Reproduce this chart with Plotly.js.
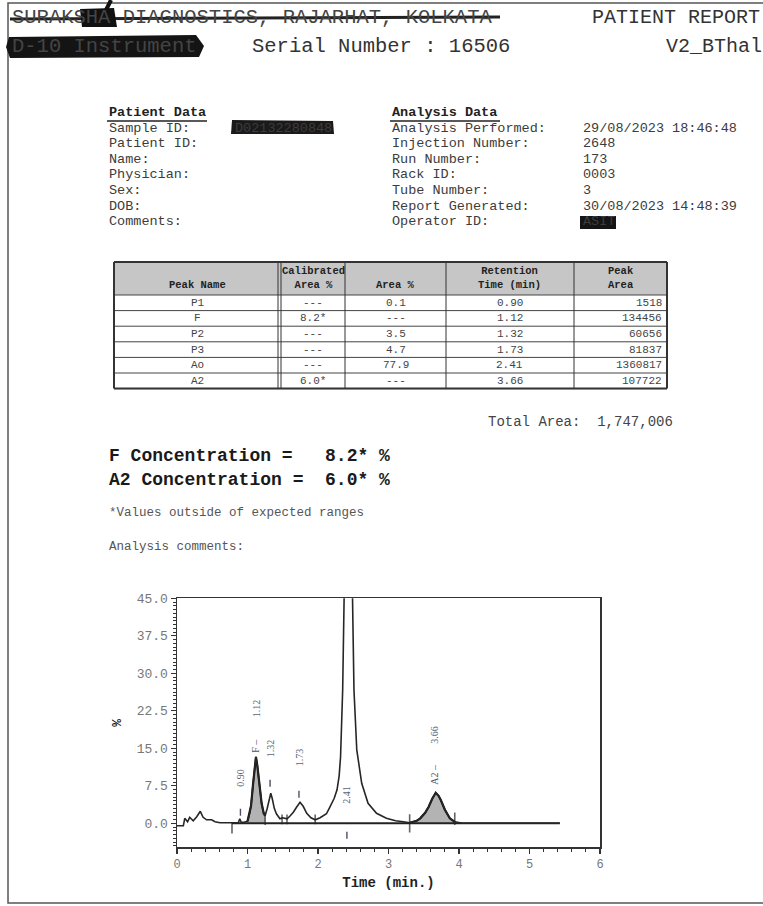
<!DOCTYPE html>
<html><head><meta charset="utf-8">
<script src="https://cdn.plot.ly/plotly-3.0.1.min.js"></script>
<style>html,body{margin:0;padding:0;background:#fff}#chart{width:763px;height:906px}</style>
</head><body><div id="chart"></div>
<script>
// ---------------- data ----------------
const headerLeft = "SURAKSHA DIAGNOSTICS, RAJARHAT, KOLKATA";
const headerRight = "PATIENT REPORT";
const instrumentName = "D-10 Instrument";
const serialNumber = "Serial Number : 16506";
const testName = "V2_BThal";

const patientTitle = "Patient Data";
const patientLabels = ["Sample ID:", "Patient ID:", "Name:", "Physician:", "Sex:", "DOB:", "Comments:"];
const patientValues = ["D02132280848", "", "", "", "", "", ""];
const analysisTitle = "Analysis Data";
const analysisLabels = ["Analysis Performed:", "Injection Number:", "Run Number:", "Rack ID:", "Tube Number:", "Report Generated:", "Operator ID:"];
const analysisValues = ["29/08/2023 18:46:48", "2648", "173", "0003", "3", "30/08/2023 14:48:39", "ASIT"];

const tableHeaders = ["Peak Name", "Calibrated<br>Area %", "Area %", "Retention<br>Time (min)", "Peak<br>Area"];
const peakNames = ["P1", "F", "P2", "P3", "Ao", "A2"];
const calibratedArea = ["---", "8.2*", "---", "---", "---", "6.0*"];
const areaPct = ["0.1", "---", "3.5", "4.7", "77.9", "---"];
const retentionTime = ["0.90", "1.12", "1.32", "1.73", "2.41", "3.66"];
const peakArea = ["1518", "134456", "60656", "81837", "1360817", "107722"];
const totalArea = "1,747,006";

const concLines = ["F Concentration =   8.2* %", "A2 Concentration =  6.0* %"];
const footnote = "*Values outside of expected ranges";
const commentsLabel = "Analysis comments:";

// chromatogram (time in min, signal in %)
const timeMin = [0.00,0.09,0.11,0.15,0.18,0.23,0.28,0.33,0.37,0.42,0.49,0.54,0.61,0.80,0.87,0.89,0.91,0.95,1.00,1.03,1.05,1.08,1.10,1.12,1.14,1.17,1.20,1.23,1.25,1.28,1.31,1.33,1.35,1.38,1.41,1.46,1.50,1.53,1.56,1.60,1.65,1.70,1.745,1.79,1.84,1.90,1.96,2.03,2.12,2.17,2.23,2.27,2.30,2.32,2.35,2.37,2.43,2.49,2.51,2.55,2.62,2.71,2.83,2.97,3.10,3.21,3.30,3.40,3.45,3.52,3.57,3.62,3.67,3.71,3.74,3.80,3.87,3.94,4.05,5.43];
const signalPct = [-0.5,-0.5,1.0,0.3,1.2,0.5,1.3,2.4,1.2,0.7,0.7,0.3,0.1,0.0,0.1,0.9,0.2,0.2,0.4,2.0,3.5,8.0,11.5,13.3,11.5,8.0,4.0,2.0,1.5,3.0,5.2,6.0,5.0,3.0,1.9,0.9,1.1,1.0,0.9,1.4,2.2,3.3,4.2,3.4,2.0,1.1,0.7,1.1,1.9,3.3,5.0,6.7,9.5,13.3,26.7,44.7,95,44.7,26.7,14.7,8.0,4.0,2.0,1.0,0.5,0.3,0.1,0.5,1.0,2.1,3.3,4.9,6.1,5.5,4.7,2.7,1.0,0.3,0.0,0.0];
const fShadeRange = [1.00, 1.25];
const a2ShadeRange = [3.30, 3.94];
const baselineT = [0.78, 5.43];
const baselineV = [0, 0];
const boundaryT = [0.78, 1.25, 1.49, 1.56, 1.96, 3.30, 3.94];

const xTickVals = [0, 1, 2, 3, 4, 5, 6];
const yTickVals = [0, 7.5, 15, 22.5, 30, 37.5, 45];
const yTickText = ["0.0", "7.5", "15.0", "22.5", "30.0", "37.5", "45.0"];

// ---------------- styling / positions ----------------
const W = 763, H = 906;
const PX = x => x / W, PY = y => 1 - y / H;
const MONO = "Liberation Mono, Courier New, monospace";
const SERIF = "Liberation Serif, Times New Roman, serif";
const annotations = [];
const shapes = [];

function txt(text, x, y, o) {
  o = o || {};
  annotations.push({
    text: text, x: PX(x), y: PY(y), xref: "paper", yref: "paper",
    xanchor: o.xanchor || "left", yanchor: o.yanchor || "middle", showarrow: false,
    align: o.align || "left",
    font: {family: o.family || MONO, size: o.size || 14, color: o.color || "#3c3c3c"}
  });
}
function pline(x0, y0, x1, y1, w, c) {
  shapes.push({type: "line", xref: "paper", yref: "paper", x0: PX(x0), y0: PY(y0), x1: PX(x1), y1: PY(y1),
    line: {width: w, color: c || "#222"}});
}
function prect(x0, y0, x1, y1, fill, lw, lc, layer) {
  shapes.push({type: "rect", xref: "paper", yref: "paper", x0: PX(x0), y0: PY(y0), x1: PX(x1), y1: PY(y1),
    fillcolor: fill || "rgba(0,0,0,0)", line: {width: lw || 0, color: lc || "#222"}, layer: layer || "above"});
}
function ppath(pts, fill) {
  const d = pts.map((p, i) => (i ? "L" : "M") + PX(p[0]) + "," + PY(p[1])).join(" ") + " Z";
  shapes.push({type: "path", xref: "paper", yref: "paper", path: d, fillcolor: fill, line: {width: 0}});
}

// page frame
prect(8, 3, 775, 903, null, 1.5, "#555", "below");

// header
txt(headerLeft, 10, 18, {size: 20.5, color: "#444"});
txt(headerRight, 590, 18, {size: 20, color: "#333"});
txt(instrumentName, 10, 46, {size: 20.5, color: "#444"});
txt(serialNumber, 250, 46, {size: 20.5, color: "#333"});
txt(testName, 664, 46, {size: 20, color: "#333"});
// redaction marks
pline(10, 19, 500, 17, 3, "#222");
ppath([[80, 9], [114, 8], [117, 27], [82, 27]], "#111");
pline(111, 0, 106, 10, 4, "#111");
ppath([[9, 37], [196, 35], [204, 46], [199, 57], [10, 58], [6, 47]], "#141414");

// patient / analysis blocks
const rowY0 = 128, rowDy = 15.6;
txt("<b>" + patientTitle + "</b>", 107, 113, {size: 13.5, color: "#222"});
pline(107, 121, 207, 121, 1.5, "#222");
txt("<b>" + analysisTitle + "</b>", 390, 113, {size: 13.5, color: "#222"});
pline(390, 121, 500, 121, 1.5, "#222");
patientLabels.forEach((l, i) => txt(l, 107, rowY0 + i * rowDy, {size: 13.5}));
patientValues.forEach((v, i) => { if (v) txt(v, 233, rowY0 + i * rowDy, {size: 13.5}); });
analysisLabels.forEach((l, i) => txt(l, 390, rowY0 + i * rowDy, {size: 13.5}));
analysisValues.forEach((v, i) => txt(v, 581, rowY0 + i * rowDy, {size: 13.5}));
// redacted values (drawn above text)
ppath([[232, 120], [333, 121], [334, 134], [231, 134]], "#1a1a1a");
ppath([[580, 216], [616, 216], [616, 229], [580, 229]], "#151515");

// results table
const colEdges = [114, 281, 345, 446, 574, 667];
const tTop = 262, hdrH = 33, rowH = 15.6;
const nRows = peakNames.length;
const tBot = tTop + hdrH + nRows * rowH;
prect(colEdges[0], tTop, colEdges[5], tTop + hdrH, "#c6c6c6", 0, null, "below");
for (let r = 0; r <= nRows; r++) pline(colEdges[0], tTop + hdrH + r * rowH, colEdges[5], tTop + hdrH + r * rowH, 1, "#444");
colEdges.forEach((x, i) => pline(x, tTop, x, tBot, (i === 0 || i === 5) ? 2 : 1, "#333"));
pline(colEdges[1] - 3, tTop, colEdges[1] - 3, tBot, 1, "#333");
pline(colEdges[0], tTop, colEdges[5], tTop, 2, "#333");
pline(colEdges[0], tBot, colEdges[5], tBot, 2, "#333");
const colData = [peakNames, calibratedArea, areaPct, retentionTime, peakArea];
tableHeaders.forEach((h, c) => {
  const cx = (colEdges[c] + colEdges[c + 1]) / 2;
  annotations.push({text: "<b>" + h + "</b>", x: PX(cx), y: PY(tTop + hdrH - 2), xref: "paper", yref: "paper",
    xanchor: "center", yanchor: "bottom", showarrow: false, align: "center",
    font: {family: MONO, size: 10.5, color: "#222"}});
});
colData.forEach((col, c) => {
  col.forEach((v, r) => {
    const yy = tTop + hdrH + (r + 0.5) * rowH;
    if (c === 4) txt(v, colEdges[5] - 3, yy, {xanchor: "right", size: 11, color: "#444"});
    else txt(v, (colEdges[c] + colEdges[c + 1]) / 2, yy, {xanchor: "center", size: 11, color: "#444"});
  });
});
txt("Total Area:  " + totalArea, 486, 422, {size: 14, color: "#444"});

// concentrations
txt("<b>" + concLines[0] + "</b>", 107, 456, {size: 18, color: "#1a1a1a"});
txt("<b>" + concLines[1] + "</b>", 107, 480, {size: 18, color: "#1a1a1a"});
txt(footnote, 107, 513, {size: 12.5, color: "#555"});
txt(commentsLabel, 107, 547, {size: 12.5, color: "#555"});

// chromatogram peak labels (data coords)
const labelY = [9.2, 23, 15, 13.2, 5.7, 17.7];
retentionTime.forEach((rt, i) => {
  annotations.push({text: rt, x: parseFloat(rt), y: labelY[i], xref: "x", yref: "y", textangle: -90,
    showarrow: false, font: {family: SERIF, size: 10, color: "#5b6277"}});
});
annotations.push({text: "F \u2013", x: parseFloat(retentionTime[1]), y: 15.5, xref: "x", yref: "y", textangle: -90,
  showarrow: false, font: {family: SERIF, size: 10, color: "#4b5063"}});
annotations.push({text: "A2 \u2013", x: parseFloat(retentionTime[5]), y: 9.7, xref: "x", yref: "y", textangle: -90,
  showarrow: false, font: {family: SERIF, size: 10, color: "#4b5063"}});

// ---------------- traces ----------------
function sub(range) {
  const xs = [], ys = [];
  timeMin.forEach((t, i) => { if (t >= range[0] - 1e-9 && t <= range[1] + 1e-9) { xs.push(t); ys.push(signalPct[i]); } });
  return {xs, ys};
}
const fS = sub(fShadeRange), aS = sub(a2ShadeRange);
const peakMarkIdx = [0, 2, 3, 4];
const peakMarkY = [2.2, 8.0, 5.8, -2.4];
const boundY = [-0.9, 0.9, 0.8, 0.8, 0.8, 0, 0.9];
const boundSize = [8, 9, 7, 7, 7, 13, 9];

const traces = [
  {x: fS.xs, y: fS.ys, type: "scatter", mode: "lines", fill: "tozeroy", fillcolor: "#b3b3b3",
    line: {color: "#111", width: 2.2}, hoverinfo: "skip"},
  {x: aS.xs, y: aS.ys, type: "scatter", mode: "lines", fill: "tozeroy", fillcolor: "#b3b3b3",
    line: {color: "#111", width: 2.2}, hoverinfo: "skip"},
  {x: baselineT, y: baselineV, type: "scatter", mode: "lines", line: {color: "#222", width: 2}, hoverinfo: "skip"},
  {x: timeMin, y: signalPct, type: "scatter", mode: "lines", line: {color: "#262626", width: 1.6}, hoverinfo: "skip"},
  {x: boundaryT, y: boundY, type: "scatter", mode: "markers",
    marker: {symbol: "line-ns-open", color: "#222", size: boundSize, line: {color: "#222", width: 1.6}}, hoverinfo: "skip"},
  {x: peakMarkIdx.map(i => parseFloat(retentionTime[i])), y: peakMarkY, type: "scatter", mode: "markers",
    marker: {symbol: "line-ns-open", color: "#4b5063", size: 5, line: {color: "#4b5063", width: 1.4}}, hoverinfo: "skip"}
];

const layout = {
  width: W, height: H, margin: {l: 0, r: 0, t: 0, b: 0},
  paper_bgcolor: "#fff", plot_bgcolor: "#fff", showlegend: false, hovermode: false,
  xaxis: {
    domain: [PX(177), PX(600)], range: [0, 6], tickvals: xTickVals, ticks: "outside", ticklen: 5, tickwidth: 1.3,
    tickcolor: "#333", showline: true, mirror: true, linecolor: "#333", linewidth: 1.5, showgrid: false, zeroline: false,
    tickfont: {family: MONO, size: 12, color: "#777"},
    minor: {dtick: 0.2, ticks: "outside", ticklen: 3, tickwidth: 1, tickcolor: "#333", showgrid: false},
    title: {text: "<b>Time (min.)</b>", font: {family: MONO, size: 14, color: "#222"}, standoff: 6}
  },
  yaxis: {
    domain: [PY(847.3), PY(598.3)], range: [-4.8, 45], tickvals: yTickVals, ticktext: yTickText,
    ticks: "outside", ticklen: 5, tickwidth: 1.3, tickcolor: "#333", showline: true, mirror: true,
    linecolor: "#333", linewidth: 1.5, showgrid: false, zeroline: false,
    tickfont: {family: MONO, size: 13, color: "#777"},
    minor: {dtick: 0.75, ticks: "outside", ticklen: 3, tickwidth: 1, tickcolor: "#333", showgrid: false},
    title: {text: "<b>%</b>", font: {family: MONO, size: 13, color: "#222"}, standoff: 12}
  },
  annotations: annotations, shapes: shapes
};

Plotly.newPlot("chart", traces, layout, {staticPlot: true, displayModeBar: false});
</script>
</body></html>
